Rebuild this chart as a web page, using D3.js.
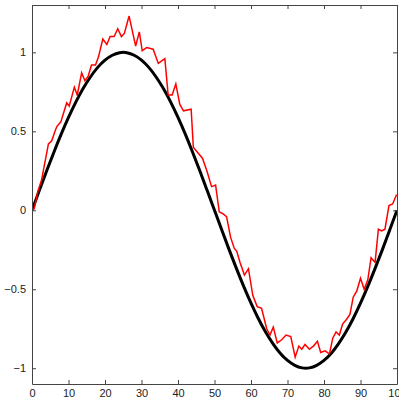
<!DOCTYPE html>
<html lang="en">
<head>
  <meta charset="UTF-8">
  <title>sine with noise</title>
  <script src="https://cdn.jsdelivr.net/npm/d3@7"></script>
  <style>
    body { margin: 0; background: #fff; }
    .axis text { font-family: "Liberation Sans", Arial, sans-serif; font-size: 11px; fill: #222; }
    .axis path, .axis line { stroke: #444; }
  </style>
</head>
<body>
  <svg width="399" height="402"></svg>
  <script>
    // smooth curve, read every 2 units
    var cleanX = [0, 2, 4, 6, 8, 10, 12, 14, 16, 18, 20, 22, 24, 26, 28, 30, 32, 34, 36, 38, 40, 42, 44, 46, 48, 50,
      52, 54, 56, 58, 60, 62, 64, 66, 68, 70, 72, 74, 76, 78, 80, 82, 84, 86, 88, 90, 92, 94, 96, 98, 100];
    var cleanY = [0, 0.125, 0.249, 0.368, 0.482, 0.588, 0.685, 0.771, 0.844, 0.905, 0.951, 0.982, 0.998, 0.998, 0.982,
      0.951, 0.905, 0.844, 0.771, 0.685, 0.588, 0.482, 0.368, 0.249, 0.125, 0,
      -0.125, -0.249, -0.368, -0.482, -0.588, -0.685, -0.771, -0.844, -0.905, -0.951, -0.982, -0.998, -0.998, -0.982,
      -0.951, -0.905, -0.844, -0.771, -0.685, -0.588, -0.482, -0.368, -0.249, -0.125, 0];

    // noisy curve
    var noisyX = [0, 0.6, 1.6, 2.6, 4.5, 5.4, 6.3, 6.8, 7.9, 9.5, 10.2, 10.9, 11.6, 12.4, 13.6, 14.5, 15.4, 16.3, 17.4,
      18.2, 19.4, 20.5, 21.4, 22.5, 23.5, 24.5, 25.3, 26.6, 28.4, 29.4, 30.2, 31.4, 33.2, 34.6, 36.4, 37.3, 38.4,
      39.4, 40.5, 41.5, 43.6, 44.2, 45.6, 46.7, 47.9, 49.2, 50.3, 51.3, 52.2, 53.3, 54.4, 55.4, 56.1, 57.0, 58.2,
      59.3, 60.5, 61.7, 62.9, 64.3, 65.2, 66.1, 67.2, 68.4, 69.6, 70.9, 72.1, 73.1, 73.9, 74.8, 76.0, 77.1, 78.2,
      79.1, 80.3, 81.5, 82.4, 83.3, 84.2, 85.1, 86.2, 87.1, 88.0, 89.0, 90.0, 91.0, 92.0, 92.9, 94.0, 94.9, 95.8,
      96.7, 97.8, 98.8, 99.9];
    var noisyY = [0, 0.01, 0.12, 0.19, 0.42, 0.44, 0.50, 0.53, 0.56, 0.68, 0.66, 0.72, 0.78, 0.73, 0.87, 0.82, 0.85,
      0.92, 0.92, 0.97, 1.085, 1.05, 1.10, 1.10, 1.15, 1.10, 1.12, 1.23, 1.04, 1.13, 1.01, 1.03, 1.02, 0.93, 0.96,
      0.73, 0.73, 0.80, 0.67, 0.63, 0.64, 0.40, 0.36, 0.33, 0.25, 0.15, 0.16, -0.01, -0.02, -0.04, -0.17, -0.24,
      -0.26, -0.33, -0.41, -0.37, -0.54, -0.61, -0.62, -0.75, -0.79, -0.74, -0.84, -0.82, -0.79, -0.80, -0.93,
      -0.86, -0.88, -0.85, -0.88, -0.86, -0.83, -0.90, -0.89, -0.91, -0.81, -0.77, -0.79, -0.72, -0.69, -0.66,
      -0.55, -0.51, -0.43, -0.50, -0.44, -0.30, -0.33, -0.12, -0.13, -0.12, 0.03, 0.04, 0.10];

    var xTicks = [0, 10, 20, 30, 40, 50, 60, 70, 80, 90, 100];
    var yTicks = [-1, -0.5, 0, 0.5, 1];

    var svg = d3.select('svg');
    var margin = {top: 5, right: 2, bottom: 18, left: 32};
    var width = svg.attr('width') - margin.left - margin.right;
    var height = svg.attr('height') - margin.top - margin.bottom;
    var chart = svg.append('g')
      .attr('transform', 'translate(' + margin.left + ',' + margin.top + ')');

    var xScale = d3.scaleLinear().domain([0, 100]).range([0, width]);
    var yScale = d3.scaleLinear().domain([-1.1, 1.3]).range([height, 0]);

    chart.append('clipPath').attr('id', 'clip')
      .append('rect').attr('width', width).attr('height', height);

    var line = d3.line()
      .x(function(d) { return xScale(d[0]); })
      .y(function(d) { return yScale(d[1]); });

    var clean = cleanX.map(function(x, i) { return [x, cleanY[i]]; });
    var noisy = noisyX.map(function(x, i) { return [x, noisyY[i]]; });

    chart.append('path')
      .datum(clean)
      .attr('clip-path', 'url(#clip)')
      .attr('fill', 'none')
      .attr('stroke', '#000')
      .attr('stroke-width', 3)
      .attr('d', line.curve(d3.curveNatural));

    chart.append('path')
      .datum(noisy)
      .attr('clip-path', 'url(#clip)')
      .attr('fill', 'none')
      .attr('stroke', '#ff0000')
      .attr('stroke-width', 1.5)
      .attr('d', line.curve(d3.curveLinear));

    // box with inward ticks, like matlab
    chart.append('g').attr('class', 'axis')
      .attr('transform', 'translate(0,' + height + ')')
      .call(d3.axisBottom(xScale).tickValues(xTicks).tickSizeInner(-4).tickSizeOuter(0).tickPadding(5));
    chart.append('g').attr('class', 'axis')
      .call(d3.axisTop(xScale).tickValues(xTicks).tickSizeInner(-4).tickSizeOuter(0).tickFormat(''));
    chart.append('g').attr('class', 'axis')
      .call(d3.axisLeft(yScale).tickValues(yTicks).tickSizeInner(-4).tickSizeOuter(0).tickPadding(6)
        .tickFormat(d3.format('')));
    chart.append('g').attr('class', 'axis')
      .attr('transform', 'translate(' + width + ',0)')
      .call(d3.axisRight(yScale).tickValues(yTicks).tickSizeInner(-4).tickSizeOuter(0).tickFormat(''));
  </script>
</body>
</html>
